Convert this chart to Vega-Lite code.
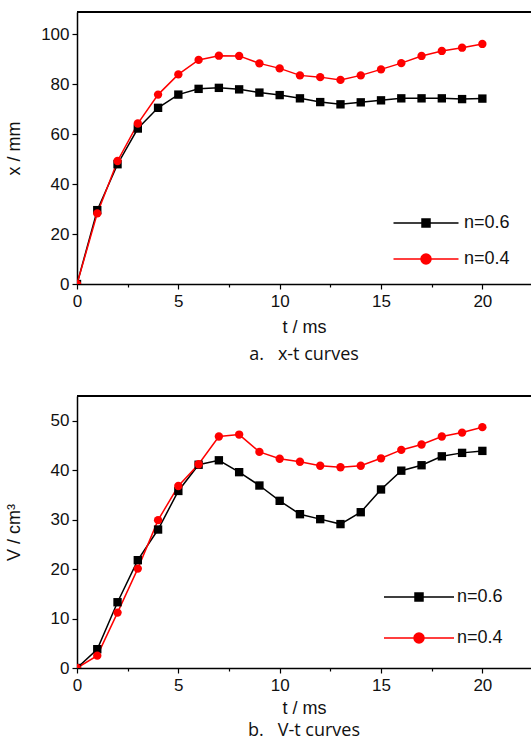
{
  "$schema": "https://vega.github.io/schema/vega-lite/v6.json",
  "background": "white",
  "padding": {"left": 5, "top": 11, "right": 0, "bottom": 0},
  "spacing": 31,
  "datasets": {
    "xt": [
      {"t": 0, "x": 0, "n": "n=0.6"}, {"t": 1, "x": 29.6, "n": "n=0.6"}, {"t": 2, "x": 48.0, "n": "n=0.6"}, {"t": 3, "x": 62.3, "n": "n=0.6"}, {"t": 4, "x": 70.6, "n": "n=0.6"}, {"t": 5, "x": 75.9, "n": "n=0.6"}, {"t": 6, "x": 78.2, "n": "n=0.6"}, {"t": 7, "x": 78.6, "n": "n=0.6"}, {"t": 8, "x": 78.0, "n": "n=0.6"}, {"t": 9, "x": 76.7, "n": "n=0.6"}, {"t": 10, "x": 75.7, "n": "n=0.6"}, {"t": 11, "x": 74.4, "n": "n=0.6"}, {"t": 12, "x": 72.9, "n": "n=0.6"}, {"t": 13, "x": 72.0, "n": "n=0.6"}, {"t": 14, "x": 72.8, "n": "n=0.6"}, {"t": 15, "x": 73.6, "n": "n=0.6"}, {"t": 16, "x": 74.4, "n": "n=0.6"}, {"t": 17, "x": 74.4, "n": "n=0.6"}, {"t": 18, "x": 74.4, "n": "n=0.6"}, {"t": 19, "x": 74.1, "n": "n=0.6"}, {"t": 20, "x": 74.3, "n": "n=0.6"},
      {"t": 0, "x": 0, "n": "n=0.4"}, {"t": 1, "x": 28.3, "n": "n=0.4"}, {"t": 2, "x": 49.3, "n": "n=0.4"}, {"t": 3, "x": 64.3, "n": "n=0.4"}, {"t": 4, "x": 75.9, "n": "n=0.4"}, {"t": 5, "x": 84.0, "n": "n=0.4"}, {"t": 6, "x": 89.8, "n": "n=0.4"}, {"t": 7, "x": 91.5, "n": "n=0.4"}, {"t": 8, "x": 91.4, "n": "n=0.4"}, {"t": 9, "x": 88.4, "n": "n=0.4"}, {"t": 10, "x": 86.4, "n": "n=0.4"}, {"t": 11, "x": 83.6, "n": "n=0.4"}, {"t": 12, "x": 82.9, "n": "n=0.4"}, {"t": 13, "x": 81.8, "n": "n=0.4"}, {"t": 14, "x": 83.6, "n": "n=0.4"}, {"t": 15, "x": 86.0, "n": "n=0.4"}, {"t": 16, "x": 88.5, "n": "n=0.4"}, {"t": 17, "x": 91.4, "n": "n=0.4"}, {"t": 18, "x": 93.4, "n": "n=0.4"}, {"t": 19, "x": 94.7, "n": "n=0.4"}, {"t": 20, "x": 96.2, "n": "n=0.4"}
    ],
    "vt": [
      {"t": 0, "V": 0, "n": "n=0.6"}, {"t": 1, "V": 3.8, "n": "n=0.6"}, {"t": 2, "V": 13.3, "n": "n=0.6"}, {"t": 3, "V": 21.8, "n": "n=0.6"}, {"t": 4, "V": 28.0, "n": "n=0.6"}, {"t": 5, "V": 35.8, "n": "n=0.6"}, {"t": 6, "V": 41.1, "n": "n=0.6"}, {"t": 7, "V": 42.0, "n": "n=0.6"}, {"t": 8, "V": 39.6, "n": "n=0.6"}, {"t": 9, "V": 36.9, "n": "n=0.6"}, {"t": 10, "V": 33.8, "n": "n=0.6"}, {"t": 11, "V": 31.1, "n": "n=0.6"}, {"t": 12, "V": 30.1, "n": "n=0.6"}, {"t": 13, "V": 29.1, "n": "n=0.6"}, {"t": 14, "V": 31.5, "n": "n=0.6"}, {"t": 15, "V": 36.1, "n": "n=0.6"}, {"t": 16, "V": 39.9, "n": "n=0.6"}, {"t": 17, "V": 41.0, "n": "n=0.6"}, {"t": 18, "V": 42.8, "n": "n=0.6"}, {"t": 19, "V": 43.5, "n": "n=0.6"}, {"t": 20, "V": 43.9, "n": "n=0.6"},
      {"t": 0, "V": 0, "n": "n=0.4"}, {"t": 1, "V": 2.5, "n": "n=0.4"}, {"t": 2, "V": 11.2, "n": "n=0.4"}, {"t": 3, "V": 20.1, "n": "n=0.4"}, {"t": 4, "V": 29.9, "n": "n=0.4"}, {"t": 5, "V": 36.8, "n": "n=0.4"}, {"t": 6, "V": 41.2, "n": "n=0.4"}, {"t": 7, "V": 46.8, "n": "n=0.4"}, {"t": 8, "V": 47.2, "n": "n=0.4"}, {"t": 9, "V": 43.7, "n": "n=0.4"}, {"t": 10, "V": 42.3, "n": "n=0.4"}, {"t": 11, "V": 41.7, "n": "n=0.4"}, {"t": 12, "V": 40.9, "n": "n=0.4"}, {"t": 13, "V": 40.6, "n": "n=0.4"}, {"t": 14, "V": 40.9, "n": "n=0.4"}, {"t": 15, "V": 42.4, "n": "n=0.4"}, {"t": 16, "V": 44.1, "n": "n=0.4"}, {"t": 17, "V": 45.2, "n": "n=0.4"}, {"t": 18, "V": 46.8, "n": "n=0.4"}, {"t": 19, "V": 47.6, "n": "n=0.4"}, {"t": 20, "V": 48.7, "n": "n=0.4"}
    ]
  },
  "config": {
    "view": {"stroke": null},
    "axis": {
      "grid": false,
      "domainColor": "black",
      "domainWidth": 1.5,
      "tickColor": "black",
      "tickWidth": 1.2,
      "labelFont": "Liberation Sans",
      "labelFontSize": 17,
      "labelColor": "#111111",
      "titleFont": "Liberation Sans",
      "titleFontSize": 18,
      "titleFontWeight": "normal",
      "titleColor": "#111111"
    },
    "legend": {
      "orient": "none",
      "title": null,
      "padding": 0,
      "symbolSize": 100,
      "symbolStrokeWidth": 1.5,
      "labelOffset": 29,
      "labelFont": "Liberation Sans",
      "labelFontSize": 18,
      "labelColor": "#111111",
      "labelLimit": 200
    },
    "title": {"font": "Open Sans", "fontSize": 18, "fontWeight": "normal", "color": "#111111", "orient": "bottom", "anchor": "middle", "offset": 10}
  },
  "resolve": {"scale": {"color": "independent", "x": "independent", "y": "independent"}, "legend": {"color": "independent"}},
  "vconcat": [
    {
      "width": 454,
      "height": 272,
      "title": {"text": "a.\u00a0\u00a0 x-t curves"},
      "data": {"name": "xt"},
      "layer": [
        {
          "mark": {"type": "rule", "color": "black", "strokeWidth": 1.5},
          "encoding": {"y": {"datum": 109, "type": "quantitative"}}
        },
        {
          "mark": {"type": "line", "strokeWidth": 1.5, "clip": true},
          "encoding": {
            "x": {"field": "t", "type": "quantitative", "scale": {"domain": [0, 22.4], "nice": false, "zero": false},
              "axis": {"title": "t / ms", "values": [0, 2.5, 5, 7.5, 10, 12.5, 15, 17.5, 20], "labelExpr": "datum.value % 5 === 0 ? datum.label : ''", "tickSize": {"condition": {"test": "datum.value % 5 === 0", "value": 5}, "value": 3}, "labelPadding": 4, "titlePadding": 9, "labelFlush": false}},
            "y": {"field": "x", "type": "quantitative", "scale": {"domain": [0, 109], "nice": false},
              "axis": {"title": "x / mm", "values": [0, 10, 20, 30, 40, 50, 60, 70, 80, 90, 100], "labelExpr": "datum.value % 20 === 0 ? datum.label : ''", "tickSize": {"condition": {"test": "datum.value % 20 === 0", "value": 5}, "value": 3}, "labelPadding": 3, "titleX": -54}},
            "color": {"field": "n", "type": "nominal", "sort": ["n=0.6", "n=0.4"],
              "scale": {"domain": ["n=0.6", "n=0.4"], "range": ["black", "#ff0000"]},
              "legend": {"legendX": 340, "legendY": 202, "rowPadding": 18,
                "encoding": {"symbols": {
                  "shape": {"condition": {"test": "datum.value === 'n=0.6'", "value": "M-6.5,0H6.5M-0.8,-0.8H0.8V0.8H-0.8Z"}, "value": "M-6.5,0H6.5M1,0A1,1,0,1,1,-1,0A1,1,0,1,1,1,0Z"},
                  "fill": {"condition": {"test": "datum.value === 'n=0.6'", "value": "black"}, "value": "#ff0000"},
                  "stroke": {"condition": {"test": "datum.value === 'n=0.6'", "value": "black"}, "value": "#ff0000"},
                  "strokeWidth": {"value": 1.5},
                  "opacity": {"value": 1}
                }}}}
          }
        },
        {
          "transform": [{"filter": "datum.n === 'n=0.6'"}],
          "mark": {"type": "point", "filled": true, "opacity": 1, "size": 70, "shape": "square", "clip": true},
          "encoding": {
            "x": {"field": "t", "type": "quantitative"},
            "y": {"field": "x", "type": "quantitative"},
            "color": {"field": "n", "type": "nominal"}
          }
        },
        {
          "transform": [{"filter": "datum.n === 'n=0.4'"}],
          "mark": {"type": "point", "filled": true, "opacity": 1, "size": 70, "shape": "circle", "clip": true},
          "encoding": {
            "x": {"field": "t", "type": "quantitative"},
            "y": {"field": "x", "type": "quantitative"},
            "color": {"field": "n", "type": "nominal"}
          }
        }
      ]
    },
    {
      "width": 454,
      "height": 272,
      "title": {"text": "b.\u00a0\u00a0 V-t curves", "offset": 5},
      "data": {"name": "vt"},
      "layer": [
        {
          "mark": {"type": "rule", "color": "black", "strokeWidth": 1.5},
          "encoding": {"y": {"datum": 55, "type": "quantitative"}}
        },
        {
          "mark": {"type": "line", "strokeWidth": 1.5, "clip": true},
          "encoding": {
            "x": {"field": "t", "type": "quantitative", "scale": {"domain": [0, 22.4], "nice": false, "zero": false},
              "axis": {"title": "t / ms", "values": [0, 2.5, 5, 7.5, 10, 12.5, 15, 17.5, 20], "labelExpr": "datum.value % 5 === 0 ? datum.label : ''", "tickSize": {"condition": {"test": "datum.value % 5 === 0", "value": 5}, "value": 3}, "labelPadding": 4, "titlePadding": 6, "labelFlush": false}},
            "y": {"field": "V", "type": "quantitative", "scale": {"domain": [0, 55], "nice": false},
              "axis": {"title": "V / cm³", "values": [0, 5, 10, 15, 20, 25, 30, 35, 40, 45, 50], "labelExpr": "datum.value % 10 === 0 ? datum.label : ''", "tickSize": {"condition": {"test": "datum.value % 10 === 0", "value": 5}, "value": 3}, "labelPadding": 3, "titleX": -54}},
            "color": {"field": "n", "type": "nominal", "sort": ["n=0.6", "n=0.4"],
              "scale": {"domain": ["n=0.6", "n=0.4"], "range": ["black", "#ff0000"]},
              "legend": {"legendX": 333, "legendY": 192, "rowPadding": 23,
                "encoding": {"symbols": {
                  "shape": {"condition": {"test": "datum.value === 'n=0.6'", "value": "M-7,0H7M-0.8,-0.8H0.8V0.8H-0.8Z"}, "value": "M-7,0H7M1,0A1,1,0,1,1,-1,0A1,1,0,1,1,1,0Z"},
                  "fill": {"condition": {"test": "datum.value === 'n=0.6'", "value": "black"}, "value": "#ff0000"},
                  "stroke": {"condition": {"test": "datum.value === 'n=0.6'", "value": "black"}, "value": "#ff0000"},
                  "strokeWidth": {"value": 1.5},
                  "opacity": {"value": 1}
                }}}}
          }
        },
        {
          "transform": [{"filter": "datum.n === 'n=0.6'"}],
          "mark": {"type": "point", "filled": true, "opacity": 1, "size": 70, "shape": "square", "clip": true},
          "encoding": {
            "x": {"field": "t", "type": "quantitative"},
            "y": {"field": "V", "type": "quantitative"},
            "color": {"field": "n", "type": "nominal"}
          }
        },
        {
          "transform": [{"filter": "datum.n === 'n=0.4'"}],
          "mark": {"type": "point", "filled": true, "opacity": 1, "size": 70, "shape": "circle", "clip": true},
          "encoding": {
            "x": {"field": "t", "type": "quantitative"},
            "y": {"field": "V", "type": "quantitative"},
            "color": {"field": "n", "type": "nominal"}
          }
        }
      ]
    }
  ]
}
